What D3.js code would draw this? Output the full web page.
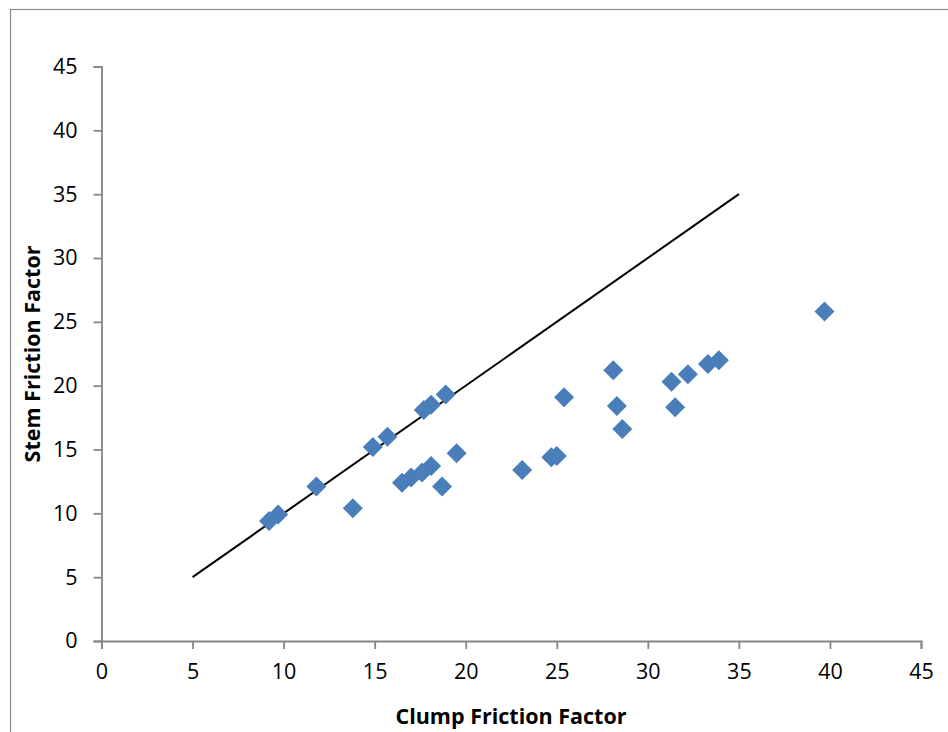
<!DOCTYPE html>
<html>
<head>
<meta charset="utf-8">
<script src="https://cdn.jsdelivr.net/npm/d3@7"></script>
<style>
  body { margin: 0; background: #fff; }
  svg text { font-family: "Open Sans", "Noto Sans", sans-serif; fill: #000; }
</style>
</head>
<body>
<svg id="chart" width="948" height="732"></svg>
<script>
// clump vs stem friction factor readings
var clumpFactor = [9.2, 9.7, 11.8, 13.8, 14.9, 15.7, 17.7, 18.1, 18.9,
    16.5, 17.0, 17.6, 18.1, 18.7, 19.5, 23.1, 24.7, 25.0, 25.4,
    28.1, 28.3, 28.6, 31.3, 31.5, 32.2, 33.3, 33.9, 39.7];
var stemFactor = [9.4, 9.9, 12.1, 10.4, 15.2, 16.0, 18.1, 18.5, 19.3,
    12.4, 12.8, 13.2, 13.7, 12.1, 14.7, 13.4, 14.4, 14.5, 19.1,
    21.2, 18.4, 16.6, 20.3, 18.3, 20.9, 21.7, 22.0, 25.8];
var refLine = [[5, 5], [35, 35]];
var xTicks = [0, 5, 10, 15, 20, 25, 30, 35, 40, 45];
var yTicks = [0, 5, 10, 15, 20, 25, 30, 35, 40, 45];

var svg = d3.select("#chart");
var margin = {left: 101.5, right: 27, top: 66.5, bottom: 91};
var width = 948 - margin.left - margin.right;
var height = 732 - margin.top - margin.bottom;

//outer chart border
svg.append("rect")
    .attr("x", 10.5).attr("y", 9.5)
    .attr("width", 948).attr("height", 740)
    .attr("fill", "none")
    .attr("stroke", "#8c8c8c")
    .attr("stroke-width", 1.2);

var x = d3.scaleLinear().domain([0, 45]).range([0, width]);
var y = d3.scaleLinear().domain([0, 45]).range([height, 0]);

var g = svg.append("g")
    .attr("transform", "translate(" + margin.left + "," + margin.top + ")");

var xAxis = d3.axisBottom(x).tickValues(xTicks).tickSizeOuter(0).tickSize(8).tickPadding(15);
var yAxis = d3.axisLeft(y).tickValues(yTicks).tickSizeOuter(0).tickSize(8).tickPadding(16);

var gx = g.append("g").attr("transform", "translate(0," + height + ")").call(xAxis);
var gy = g.append("g").call(yAxis);

[gx, gy].forEach(function(a) {
    a.select(".domain").attr("stroke", "#868686").attr("stroke-width", 1.8);
    a.selectAll(".tick line").attr("stroke", "#868686").attr("stroke-width", 1.8);
    a.selectAll(".tick text").style("font-size", "21.5px").attr("fill", "#000");
});

var line = d3.line()
    .x(function(d) { return x(d[0]); })
    .y(function(d) { return y(d[1]); });

g.append("path")
    .attr("d", line(refLine))
    .attr("fill", "none")
    .attr("stroke", "#000")
    .attr("stroke-width", 2);

var diamond = d3.symbol().type(d3.symbolSquare).size(200);
g.selectAll("path.pt")
    .data(clumpFactor)
    .enter()
    .append("path")
    .attr("class", "pt")
    .attr("d", diamond)
    .attr("transform", function(d, i) {
        return "translate(" + x(d) + "," + y(stemFactor[i]) + ") rotate(45)";
    })
    .attr("fill", "#4a7ebb");

svg.append("text")
    .attr("x", 511)
    .attr("y", 724)
    .attr("text-anchor", "middle")
    .style("font-size", "21.5px")
    .style("font-weight", "bold")
    .text("Clump Friction Factor");

svg.append("text")
    .attr("transform", "translate(40,354) rotate(-90)")
    .attr("text-anchor", "middle")
    .style("font-size", "21.5px")
    .style("font-weight", "bold")
    .text("Stem Friction Factor");
</script>
</body>
</html>
